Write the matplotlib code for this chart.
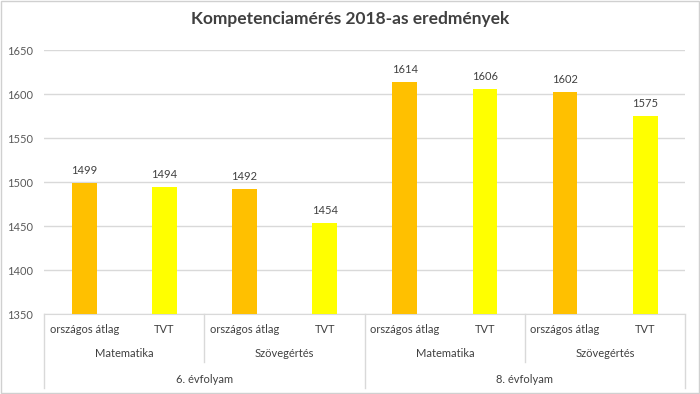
import matplotlib.pyplot as plt
from matplotlib.lines import Line2D
from matplotlib.patches import Rectangle

plt.rcParams['font.family'] = ['Lato', 'DejaVu Sans']

evfolyamok = ['6. évfolyam', '8. évfolyam']
targyak = ['Matematika', 'Szövegértés']
sorozat = ['országos átlag', 'TVT']
ertekek = [1499, 1494, 1492, 1454, 1614, 1606, 1602, 1575]
szinek = ['#FFC000', '#FFFF00']

fig = plt.figure(figsize=(7, 3.94), dpi=100)
fig.patches.append(Rectangle((0.001, 0.002), 0.997, 0.995, transform=fig.transFigure,
                             fill=False, edgecolor='#d0d0d0', linewidth=1))
ax = fig.add_axes([0.063, 0.203, 0.916, 0.67])

x = list(range(len(ertekek)))
cols = [szinek[i % 2] for i in x]
ax.bar(x, ertekek, width=0.31, color=cols, zorder=3)
for xi, v in zip(x, ertekek):
    ax.annotate(str(v), (xi, v), xytext=(0, 5), textcoords='offset points',
                ha='center', va='bottom', fontsize=8, color='#404040')

ax.set_xlim(-0.5, len(ertekek) - 0.5)
ax.set_ylim(1350, 1650)
ax.set_yticks(range(1350, 1651, 50))
ax.yaxis.grid(True, color='#d9d9d9', linewidth=1, zorder=0)
for s in ['top', 'right', 'left']:
    ax.spines[s].set_visible(False)
ax.spines['bottom'].set_color('#d9d9d9')
ax.tick_params(axis='y', length=0, labelsize=8, labelcolor='#595959', pad=8)
ax.tick_params(axis='x', length=0, labelbottom=False)
fig.text(0.5, 0.953, 'Kompetenciamérés 2018-as eredmények', fontsize=12.5,
         color='#404040', ha='center', va='center', fontweight='bold')

# többszintű kategória tengely
tr = ax.get_xaxis_transform()
n = len(ertekek)
def yax(px):
    return -px / (0.67 * 394)

for i in x:
    ax.text(i, yax(15), sorozat[i % 2], transform=tr, ha='center', va='center',
            fontsize=8, color='#404040')
for j in range(4):
    ax.text(2 * j + 0.5, yax(39), targyak[j % 2], transform=tr, ha='center',
            va='center', fontsize=8, color='#404040')
for k in range(2):
    ax.text(4 * k + 1.5, yax(65), evfolyamok[k], transform=tr, ha='center',
            va='center', fontsize=8, color='#404040')
for b in range(0, n + 1, 2):
    bottom = 74 if b % 4 == 0 else 48
    ax.add_line(Line2D([b - 0.5, b - 0.5], [0, yax(bottom)], transform=tr,
                       color='#d9d9d9', linewidth=1, clip_on=False))

fig.savefig('out.png', dpi=100)
